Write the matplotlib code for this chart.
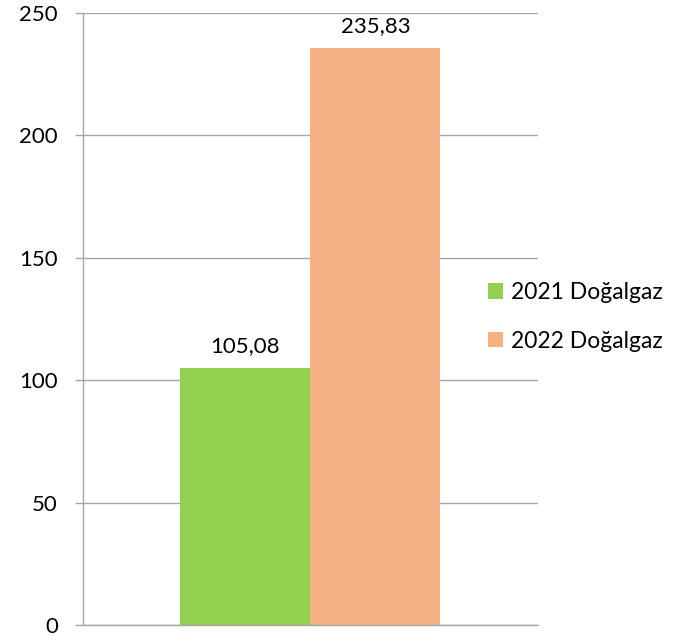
import matplotlib.pyplot as plt

series = ['2021 Doğalgaz', '2022 Doğalgaz']
values = [105.08, 235.83]
labels = ['105,08', '235,83']
colors = ['#92D050', '#F4B183']
yticks = [0, 50, 100, 150, 200, 250]

plt.rcParams['font.family'] = ['Lato', 'DejaVu Sans']
fs = 16

fig = plt.figure(figsize=(6.74, 6.42), dpi=100)
ax = fig.add_axes([0.123, 0.0265, 0.675, 0.9535])

width = 0.286
offsets = [-width / 2, width / 2]
for name, v, lab, col, off in zip(series, values, labels, colors, offsets):
    ax.bar(off, v, width=width, color=col, label=name, zorder=2)
    ax.annotate(lab, (off, v), xytext=(0, 8), textcoords='offset points',
                ha='center', va='bottom', fontsize=fs)

ax.set_xlim(-0.5, 0.5)
ax.set_ylim(0, 250)
ax.set_yticks(yticks)
ax.set_yticklabels([str(t) for t in yticks], fontsize=fs)
ax.set_xticks([])
ax.grid(axis='y', color='#A6A6A6', linewidth=1, zorder=0)
ax.tick_params(axis='y', length=6, width=1, color='#A6A6A6', pad=12)
for s in ['top', 'right']:
    ax.spines[s].set_visible(False)
for s in ['left', 'bottom']:
    ax.spines[s].set_color('#A6A6A6')
    ax.spines[s].set_linewidth(1)

ax.legend(loc='center left', bbox_to_anchor=(488 / 674, 1 - 317 / 642),
          bbox_transform=fig.transFigure, frameon=False,
          fontsize=16.5, handlelength=0.66, handleheight=0.66, handletextpad=0.35,
          labelspacing=1.2, borderpad=0, borderaxespad=0)

fig.savefig('out.png', dpi=100)
